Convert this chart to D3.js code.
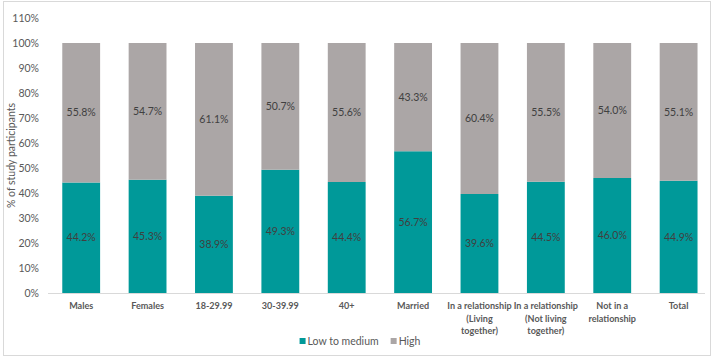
<!DOCTYPE html>
<html>
<head>
<meta charset="utf-8">
<script src="https://cdn.jsdelivr.net/npm/d3@7"></script>
<style>
  body { margin: 0; background: #fff; }
  svg { font-family: Lato, "Open Sans", sans-serif; }
</style>
</head>
<body>
<div id="chart"></div>
<script>
const categories = ['Males', 'Females', '18-29.99', '30-39.99', '40+', 'Married',
  'In a relationship|(Living|together)', 'In a relationship|(Not living|together)',
  'Not in a|relationship', 'Total'];
const lowToMedium = [44.2, 45.3, 38.9, 49.3, 44.4, 56.7, 39.6, 44.5, 46.0, 44.9];
const high = [55.8, 54.7, 61.1, 50.7, 55.6, 43.3, 60.4, 55.5, 54.0, 55.1];
const yTicks = [0, 10, 20, 30, 40, 50, 60, 70, 80, 90, 100, 110];

const width = 716, height = 359;
const margin = { top: 18, right: 4, bottom: 66, left: 48 };

const svg = d3.select('#chart').append('svg')
  .attr('width', width)
  .attr('height', height);

// outer chart border
svg.append('rect')
  .attr('x', 3.5).attr('y', 1.5)
  .attr('width', 707).attr('height', 354)
  .attr('fill', 'none')
  .attr('stroke', '#d9d9d9');

const x = d3.scaleBand()
  .domain(categories)
  .range([margin.left, 711.8])
  .paddingInner(0.43)
  .paddingOuter(0.215);

const y = d3.scaleLinear()
  .domain([0, 110])
  .range([293, 18]);

const stacked = categories.map((c, i) => ({ cat: c, low: lowToMedium[i], high: high[i] }));
const series = d3.stack().keys(['low', 'high'])(stacked);
const colors = { low: '#009999', high: '#aba6a6' };

const g = svg.append('g');
g.selectAll('g.series')
  .data(series)
  .join('g')
  .attr('fill', d => colors[d.key])
  .selectAll('rect')
  .data(d => d.map(v => ({ key: d.key, v })))
  .join('rect')
  .attr('x', d => x(d.v.data.cat))
  .attr('width', x.bandwidth())
  .attr('y', d => y(d.v[1]))
  .attr('height', d => y(d.v[0]) - y(d.v[1]));

// value labels
g.selectAll('g.lbl')
  .data(series)
  .join('g')
  .selectAll('text')
  .data(d => d.map(v => ({ key: d.key, v })))
  .join('text')
  .attr('x', d => x(d.v.data.cat) + x.bandwidth() / 2)
  .attr('y', d => y((d.v[0] + d.v[1]) / 2))
  .attr('dy', '0.35em')
  .attr('text-anchor', 'middle')
  .attr('font-size', 10.5)
  .attr('fill', '#404040')
  .text(d => (d.v[1] - d.v[0]).toFixed(1) + '%');

// y axis
const yAxis = svg.append('g')
  .attr('transform', `translate(${margin.left},0)`)
  .call(d3.axisLeft(y).tickValues(yTicks).tickFormat(d => d + '%').tickSize(0).tickPadding(9));
yAxis.select('.domain').remove();
yAxis.selectAll('text').attr('font-size', 10.5).attr('fill', '#595959')
  .attr('font-family', 'Lato, sans-serif');

// x axis
const xAxis = svg.append('g')
  .attr('transform', `translate(0,${y(0)})`)
  .call(d3.axisBottom(x).tickSize(0).tickFormat(''));
xAxis.select('.domain').attr('stroke', '#d9d9d9').attr('d', `M${margin.left},0.5H705`);

let xFont = 10.5;
xAxis.selectAll('.tick').each(function (d) {
  const t = d3.select(this).select('text')
    .attr('font-size', xFont)
    .attr('font-weight', 'bold')
    .attr('font-family', 'Lato, sans-serif')
    .attr('fill', '#595959')
    .attr('y', 16)
    .attr('dy', 0);
  d.split('|').forEach((line, i) => {
    t.append('tspan').attr('x', 0).attr('dy', i === 0 ? 0 : 12.5).text(line);
  });
});
// keep the widest label inside one band step so neighbours do not overlap
let widest = 0;
xAxis.selectAll('.tick tspan').each(function () {
  widest = Math.max(widest, this.getComputedTextLength());
});
const maxW = x.step() - 2;
if (widest > maxW) {
  xFont = xFont * maxW / widest;
  xAxis.selectAll('.tick text').attr('font-size', xFont);
}

// y axis title
svg.append('text')
  .attr('transform', `translate(15,${y(55)}) rotate(-90)`)
  .attr('text-anchor', 'middle')
  .attr('font-size', 10.5)
  .attr('fill', '#595959')
  .text('% of study participants');

// legend
const legendItems = [
  { key: 'low', label: 'Low to medium' },
  { key: 'high', label: 'High' }
];
const legend = svg.append('g');
let lx = 0;
legendItems.forEach(it => {
  legend.append('rect')
    .attr('x', lx).attr('y', -3)
    .attr('width', 6).attr('height', 6)
    .attr('fill', colors[it.key]);
  const t = legend.append('text')
    .attr('x', lx + 8).attr('y', 0)
    .attr('dy', '0.35em')
    .attr('font-size', 10.5)
    .attr('fill', '#595959')
    .text(it.label);
  lx += 8 + t.node().getComputedTextLength() + 12;
});
const legendW = lx - 12;
legend.attr('transform', `translate(${360 - legendW / 2},341)`);
</script>
</body>
</html>
